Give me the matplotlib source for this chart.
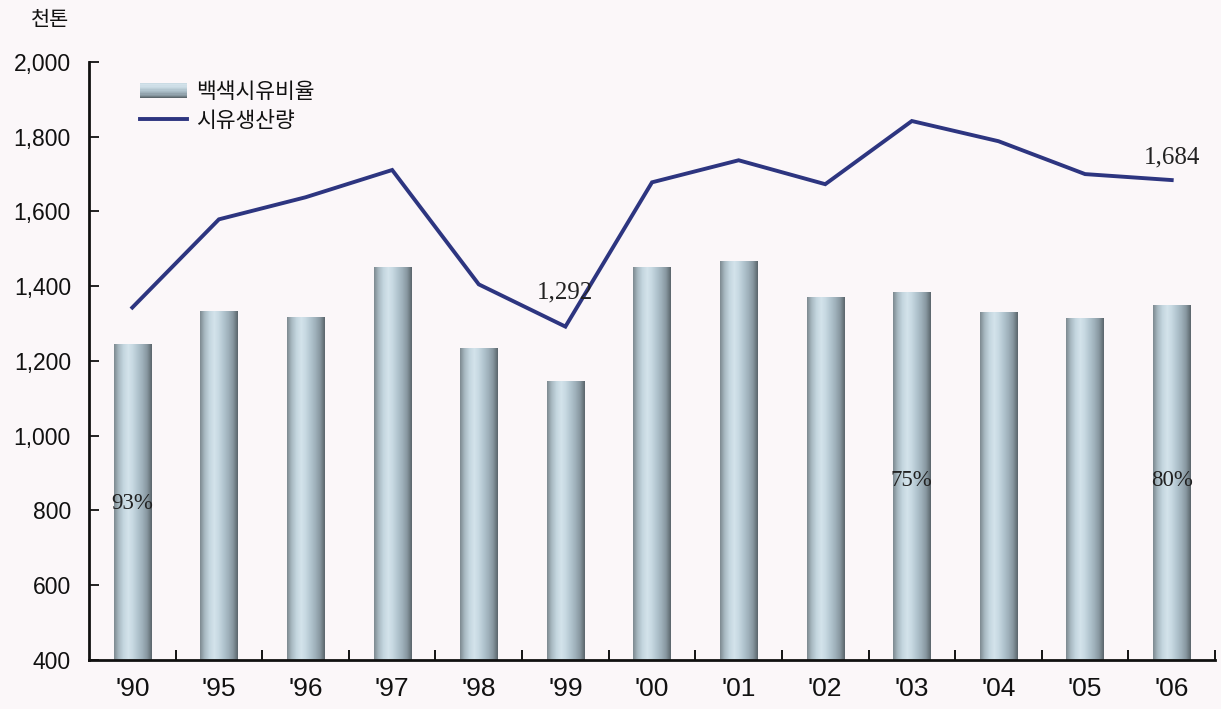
import numpy as np
import matplotlib
matplotlib.use('Agg')
import matplotlib.pyplot as plt
from matplotlib import font_manager
from matplotlib.colors import LinearSegmentedColormap
from matplotlib.patches import Rectangle
from matplotlib.lines import Line2D
from matplotlib.legend_handler import HandlerBase
from matplotlib.ticker import FuncFormatter

# 데이터
years = ["'90", "'95", "'96", "'97", "'98", "'99", "'00", "'01", "'02", "'03", "'04", "'05", "'06"]
bar_heights = [1244, 1333, 1317, 1451, 1233, 1145, 1451, 1467, 1370, 1384, 1330, 1314, 1349]
production = [1343, 1579, 1638, 1711, 1405, 1292, 1678, 1737, 1673, 1842, 1788, 1700, 1684]
pct_labels = {0: '93%', 9: '75%', 12: '80%'}

bg = '#fbf7f9'
line_color = '#2d3580'
bar_cmap = LinearSegmentedColormap.from_list(
    'cyl', ['#7d8a90', '#a9bac3', '#c4d6df', '#d3e3eb', '#c6d8e1',
            '#b2c5cf', '#9fb1bb', '#8797a0', '#5b666c'])

names = {f.name for f in font_manager.fontManager.ttflist}
sans = 'Liberation Sans Narrow' if 'Liberation Sans Narrow' in names else 'Liberation Sans'
kr = ['Noto Sans CJK KR', 'DejaVu Sans']
serif = 'Liberation Serif'

fig = plt.figure(figsize=(12.21, 7.09), dpi=100, facecolor=bg)
ax = fig.add_axes([0.0729, 0.0691, 0.9222, 0.8435], facecolor=bg)

ymin, ymax = 400, 2000
x = np.arange(len(years))
bars = ax.bar(x, bar_heights, width=0.43, color='#b2c5cf', zorder=2)

# 원통 느낌 그라데이션
grad = np.linspace(0, 1, 128).reshape(1, -1)
for b in bars:
    ax.imshow(grad, cmap=bar_cmap, aspect='auto', zorder=2.2,
              extent=(b.get_x(), b.get_x() + b.get_width(), ymin, b.get_height()))

ax.plot(x, production, color=line_color, lw=2.8, zorder=4, solid_joinstyle='miter')

ax.set_xlim(-0.5, len(years) - 0.5)
ax.set_ylim(ymin, ymax)
ax.set_yticks(np.arange(ymin, ymax + 1, 200))
ax.yaxis.set_major_formatter(FuncFormatter(lambda v, p: f'{int(v):,}'))

for s in ['top', 'right']:
    ax.spines[s].set_visible(False)
for s in ['left', 'bottom']:
    ax.spines[s].set_linewidth(2)
    ax.spines[s].set_color('#111111')
    ax.spines[s].set_zorder(5)

ax.tick_params(axis='y', direction='in', length=7, width=1.3, pad=13,
               labelsize=16.5, colors='#111111')
ax.set_xticks(x)
ax.set_xticklabels(years)
ax.tick_params(axis='x', which='major', length=0, pad=12, labelsize=19, colors='#111111')
ax.set_xticks(np.arange(0.5, len(years), 1), minor=True)
ax.tick_params(axis='x', which='minor', direction='in', length=7, width=1.3)
for lab in ax.get_xticklabels() + ax.get_yticklabels():
    lab.set_family(sans)

# 수치 라벨
for i, t in pct_labels.items():
    y = 820 if i == 0 else 880
    ax.text(x[i], y, t, ha='center', va='center', fontsize=16.5,
            family=serif, color='#222222', zorder=5)
ax.text(x[5], 1384, f'{production[5]:,}', ha='center', va='center',
        fontsize=18, family=serif, color='#222222', zorder=5)
ax.text(x[12], 1745, f'{production[12]:,}', ha='center', va='center',
        fontsize=18, family=serif, color='#222222', zorder=5)

fig.text(50 / 1221, 1 - 20 / 709, '천톤', family=kr, fontsize=15,
         ha='center', va='center', color='#111111')


# 범례 (그라데이션 막대)
class GradHandler(HandlerBase):
    def create_artists(self, legend, orig_handle, xdescent, ydescent,
                       width, height, fontsize, trans):
        arts = []
        n = 12
        for k in range(n):
            c = bar_cmap(0.3 + 0.7 * k / (n - 1))
            r = Rectangle((-xdescent, -ydescent + height * (n - 1 - k) / n),
                          width, height / n, facecolor=c, edgecolor='none',
                          transform=trans)
            arts.append(r)
        return arts


h_bar = Rectangle((0, 0), 1, 1)
h_line = Line2D([], [], color=line_color, lw=2.8)
leg = ax.legend([h_bar, h_line], ['백색시유비율', '시유생산량'],
                handler_map={Rectangle: GradHandler()},
                loc='upper left', bbox_to_anchor=(0.045, 0.968),
                frameon=False, prop={'family': kr, 'size': 15.5},
                handlelength=2.2, handleheight=0.75, handletextpad=0.4,
                labelspacing=0.3, borderpad=0, borderaxespad=0)
for t in leg.get_texts():
    t.set_color('#111111')

fig.savefig('out.png', dpi=100, facecolor=bg)
